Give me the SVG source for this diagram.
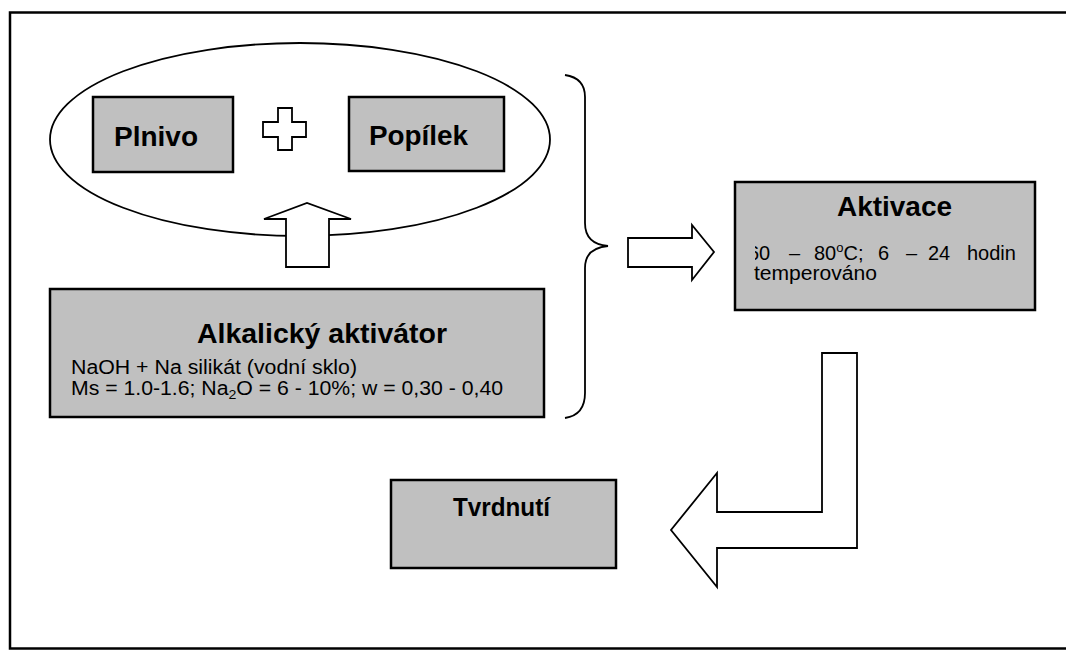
<svg xmlns="http://www.w3.org/2000/svg" width="1066" height="650" viewBox="0 0 1066 650">
<style>
.box{fill:#c0c0c0;stroke:#000;stroke-width:2.5}
.arrow{fill:#fff;stroke:#000;stroke-width:1.8;stroke-linejoin:miter}
.line{fill:none;stroke:#000;stroke-width:1.8}
.t{font-family:"Liberation Sans",Arial,sans-serif;fill:#000}
.b{font-weight:bold}
</style>
<defs>
<clipPath id="clipAkt"><rect x="755" y="182" width="280" height="128"/></clipPath>
</defs>
<rect x="0" y="0" width="1066" height="650" fill="#fff"/>
<rect x="10" y="12.5" width="1070" height="636" fill="none" stroke="#000" stroke-width="2.5"/>
<g id="group-ellipse">
<ellipse cx="300" cy="139.5" rx="250" ry="96.5" class="line" stroke-width="1.5"/>
</g>
<g id="node-plnivo">
<rect x="93" y="97" width="140" height="75" class="box"/>
<text x="114" y="146" class="t b" font-size="27" textLength="84" lengthAdjust="spacingAndGlyphs">Plnivo</text>
</g>
<g id="plus">
<path d="M278,108 H292 V122 H306 V137 H292 V150 H278 V137 H263 V122 H278 Z" class="arrow"/>
</g>
<g id="node-popilek">
<rect x="349" y="97" width="155" height="74" class="box"/>
<text x="369" y="145" class="t b" font-size="27" textLength="99" lengthAdjust="spacingAndGlyphs">Popílek</text>
</g>
<g id="node-alkalicky">
<rect x="50" y="289" width="494" height="128" class="box"/>
<text x="197" y="343" class="t b" font-size="27" textLength="250" lengthAdjust="spacingAndGlyphs">Alkalický aktivátor</text>
<text x="71" y="374" class="t" font-size="19.5" textLength="286" lengthAdjust="spacingAndGlyphs">NaOH + Na silikát (vodní sklo)</text>
<text x="71" y="395" class="t" font-size="19.5" textLength="432" lengthAdjust="spacingAndGlyphs">Ms = 1.0-1.6; Na<tspan font-size="13" dy="4">2</tspan><tspan dy="-4">O = 6 - 10%; w = 0,30 - 0,40</tspan></text>
</g>
<g id="node-aktivace">
<rect x="735" y="182" width="300" height="128" class="box"/>
<text x="837" y="216" class="t b" font-size="27" textLength="115" lengthAdjust="spacingAndGlyphs">Aktivace</text>
<g clip-path="url(#clipAkt)">
<text y="260" class="t" font-size="20"><tspan x="748">60</tspan><tspan x="789">–</tspan><tspan x="814">80</tspan><tspan font-size="13" dy="-8">o</tspan><tspan dy="8">C;</tspan><tspan x="878">6</tspan><tspan x="906">–</tspan><tspan x="928">24</tspan><tspan x="967">hodin</tspan></text>
</g>
<text x="754" y="280" class="t" font-size="20" textLength="123" lengthAdjust="spacingAndGlyphs">temperováno</text>
</g>
<g id="node-tvrdnuti">
<rect x="391" y="480" width="225" height="88" class="box"/>
<text x="453" y="516" class="t b" font-size="25" textLength="97" lengthAdjust="spacingAndGlyphs">Tvrdnutí</text>
</g>
<g id="connectors">
<path d="M286,267 V219 H264 L307,203 L351,219 H329 V267 Z" class="arrow"/>
<path d="M565,75 Q585,78 585,97 V223 Q585,244 608,246 Q585,248 585,268 V393 Q585,415 565,418" class="line"/>
<path d="M628,238 H692 V225 L714,252 L692,280 V267 H628 Z" class="arrow"/>
<path d="M822,353 H857 V548 H717 V587 L671,530 L717,473 V512 H822 Z" class="arrow"/>
</g>
</svg>
